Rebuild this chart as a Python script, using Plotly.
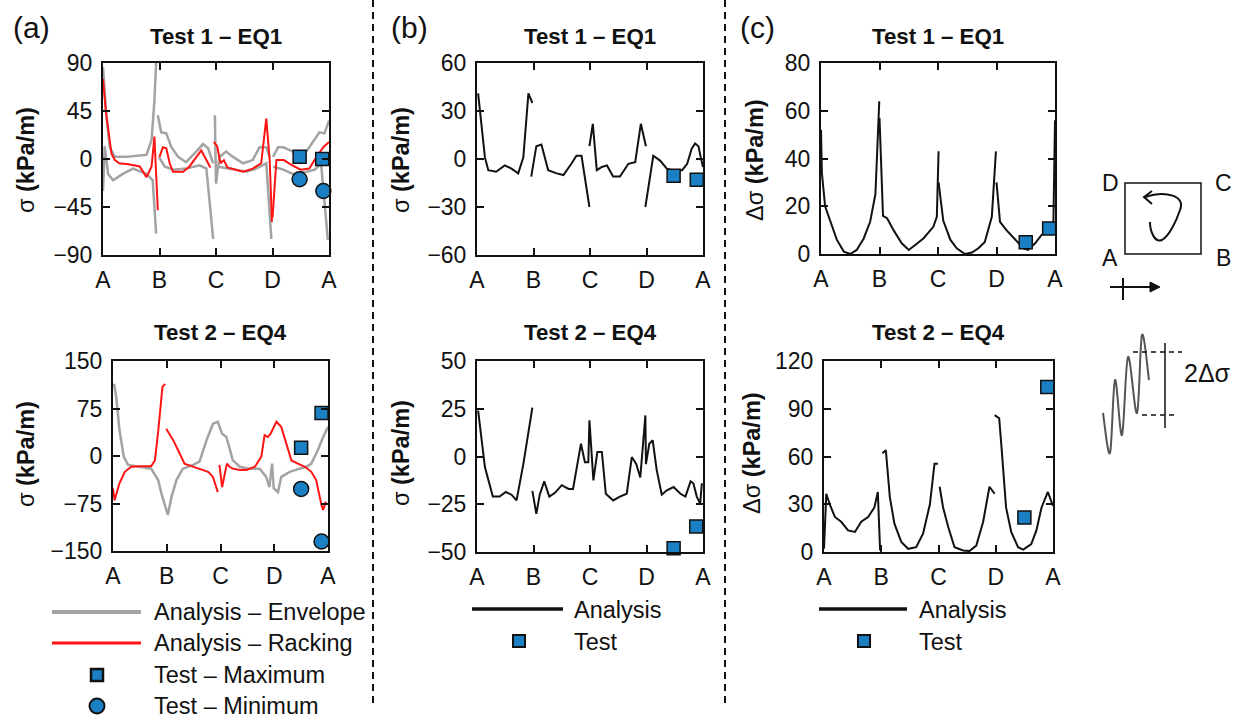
import plotly.graph_objects as go

W, H = 1240, 722
FONT = "Liberation Sans, Arial, Helvetica, sans-serif"

# ---------------- tick labels / categories ----------------
XTICK_VALS = [0, 1, 2, 3, 4]
XTICK_TEXT = ["A", "B", "C", "D", "A"]

# ---------------- (a) Test 1 - EQ1 ----------------
A1_ENV_X = [0.0, 0.06, 0.12, 0.21, 0.41, 0.77, 0.86, 0.91, 0.94, None,
            0.0, 0.03, 0.09, 0.18, 0.35, 0.53, 0.77, 0.88, 0.94, None,
            0.97, 1.03, 1.12, 1.21, 1.33, 1.47, 1.65, 1.77, 1.86, 1.95, None,
            0.99, 1.09, 1.24, 1.47, 1.71, 1.83, 1.95, None,
            1.98, 2.0, 2.06, 2.18, 2.3, 2.48, 2.65, 2.77, 2.89, 2.95, None,
            2.02, 2.3, 2.54, 2.71, 2.89, 2.98, None,
            3.01, 3.1, 3.19, 3.36, 3.6, 3.75, 3.83, 3.92, 4.0, None,
            3.01, 3.19, 3.36, 3.6, 3.75, 3.86, 3.98]
A1_ENV_Y = [86, 40, 11, 2, 2, 4, 18, 55, 90, None,
            -30, 12, -14, -20, -14, -9, -14, -20, -70, None,
            41, 25, 24, 11, 2, -3, 7, 14, 10, -4, None,
            2, -7, -10, -9, -6, -9, -75, None,
            41, -23, 2, 7, 2, -4, -1, 11, 11, 2, None,
            -7, -10, -12, -9, -4, -75, None,
            2, 11, 11, 7, 7, 18, 25, 24, 36, None,
            -7, -10, -14, -12, -10, -4, -76]
A1_RACK_X = [0.0, 0.05, 0.15, 0.21, 0.29, 0.45, 0.65, 0.77, 0.86, 0.91, 0.97, None,
             1.0, 1.06, 1.12, 1.18, 1.24, 1.42, 1.53, 1.74, 1.83, 1.9, None,
             1.96, 2.02, 2.08, 2.14, 2.2, 2.48, 2.65, 2.8, 2.89, 2.95, 2.99, None,
             3.0, 3.07, 3.2, 3.35, 3.5, 3.65, 3.78, 3.9, 4.0]
A1_RACK_Y = [75, 45, 5, -1, -4, -5, -7, -17, -7, 21, -48, None,
             2, 11, 10, -4, -12, -12, -7, 8, -1, -8, None,
             16, 12, -4, -1, -8, -12, -9, -4, 38, -1, -59, None,
             -55, -1, -1, -6, -10, -9, 2, 11, 16]
A1_MAX_X = [3.48, 3.88]
A1_MAX_Y = [2, 0]
A1_MIN_X = [3.48, 3.9]
A1_MIN_Y = [-19, -30]

# ---------------- (a) Test 2 - EQ4 ----------------
A2_ENV_X = [0.02, 0.06, 0.12, 0.2, 0.28, 0.5, 0.71, 0.84, 0.9, 1.02, 1.09, 1.18, 1.3,
            1.49, 1.61, 1.74, 1.86, 1.95, 2.03, 2.11, 2.23, 2.36, 2.51, 2.73, 2.85,
            2.91, 2.96, 2.99, 3.07, 3.13, 3.29, 3.47, 3.6, 3.69, 3.81, 3.91, 4.0]
A2_ENV_Y = [114, 93, 41, -1, -14, -17, -20, -38, -59, -93, -64, -38, -20,
            -14, -9, 25, 51, 54, 35, 30, -7, -17, -20, -20, -33,
            -49, -12, -51, -57, -33, -25, -20, -17, -12, 9, 30, 46]
A2_RACK_X = [0.0, 0.03, 0.12, 0.22, 0.34, 0.5, 0.71, 0.78, 0.84, 0.89, 0.92, 0.97, None,
             0.99, 1.12, 1.24, 1.33, 1.46, 1.61, 1.77, 1.86, 1.95, None,
             1.98, 2.03, 2.08, 2.12, 2.17, 2.23, 2.36, 2.48, 2.64, 2.76, 2.82, 2.88,
             2.93, 3.04, 3.13, 3.22, 3.32, 3.44, 3.57, 3.69, 3.78, 3.88, 3.91, 3.96]
A2_RACK_Y = [-51, -70, -43, -25, -17, -16, -16, -7, 38, 83, 109, 114, None,
             43, 25, 4, -12, -16, -20, -25, -33, -57, None,
             -14, -49, -28, -12, -17, -20, -22, -22, -17, -1, 33, 30,
             35, 54, 46, 20, -7, -12, -17, -25, -38, -78, -85, -72]
A2_MAX_X = [3.5, 3.88]
A2_MAX_Y = [13, 68]
A2_MIN_X = [3.5, 3.88]
A2_MIN_Y = [-52, -135]

# ---------------- (b) Test 1 - EQ1 ----------------
B1_X = [0.02, 0.05, 0.14, 0.2, 0.34, 0.49, 0.61, 0.73, 0.82, 0.91, 0.98, None,
        0.96, 1.05, 1.14, 1.26, 1.41, 1.53, 1.67, 1.76, 1.85, 1.99, None,
        1.99, 2.05, 2.12, 2.21, 2.3, 2.41, 2.53, 2.68, 2.8, 2.9, 2.99, None,
        2.98, 3.07, 3.12, 3.24, 3.36, 3.45, 3.63, 3.72, 3.8, 3.86, 3.92, 3.96, 4.0]
B1_Y = [41, 30, 1, -7, -8, -4, -6, -9, 1, 41, 35, None,
        -11, 8, 9, -7, -9, -10, -3, 2, 2, -30, None,
        8, 22, -7, -5, -4, -11, -11, -3, -2, 22, 8, None,
        -30, -9, 2, -1, -6, -7, -7, -3, 6.5, 9.7, 8, 1, -5]
B1_TEST_X = [3.48, 3.89]
B1_TEST_Y = [-10.5, -13]

# ---------------- (b) Test 2 - EQ4 ----------------
B2_X = [0.02, 0.14, 0.28, 0.4, 0.51, 0.61, 0.7, 0.82, 0.98, None,
        0.98, 1.05, 1.11, 1.19, 1.28, 1.38, 1.5, 1.62, 1.7, 1.84, 1.91, 1.97, 1.99,
        2.06, 2.13, 2.21, 2.28, 2.41, 2.53, 2.65, 2.74, 2.82, 2.89, 2.98,
        2.99, 3.05, 3.11, 3.18, 3.27, 3.36, 3.48, 3.6, 3.69, 3.78, 3.83, 3.89, 3.95, 3.98]
B2_Y = [24, -5.5, -21, -21, -18.6, -20, -23, -4, 25.6, None,
        -18, -30, -20, -13, -21, -19, -15, -17, -17, 6.7, -3, -3, 19,
        -12.5, 2.4, 2.4, -19.5, -23, -21, -19.5, -0.3, -4, -11, 21.5,
        -4, 6.7, 8.5, -7, -20, -17.7, -16, -19.5, -21, -13, -14, -21, -24.7, -14]
B2_TEST_X = [3.48, 3.88]
B2_TEST_Y = [-48, -36.6]

# ---------------- (c) Test 1 - EQ1 ----------------
C1_X = [0.0, 0.015, 0.07, 0.16, 0.27, 0.39, 0.5, 0.61, 0.73, 0.84, 0.93, 0.996, None,
        1.0, 1.06, 1.13, 1.24, 1.38, 1.5, 1.61, 1.75, 1.92, 1.98, 2.01, None,
        2.01, 2.09, 2.21, 2.32, 2.46, 2.58, 2.69, 2.8, 2.92, 2.99, None,
        3.0, 3.06, 3.17, 3.32, 3.46, 3.54, 3.66, 3.77, 3.91, 3.97, 4.0]
C1_Y = [52, 34, 20, 14, 6, 1, 0, 1.7, 6.5, 13.5, 25, 64, None,
        57, 16, 15, 10, 4.5, 1.7, 3.8, 6.5, 11.4, 15.6, 43, None,
        30, 14, 6, 2.4, 0, 0.6, 2.4, 5, 15.6, 43, None,
        30, 13.5, 10, 6, 2.4, 1.7, 4.5, 8, 10, 9, 56]
C1_TEST_X = [3.5, 3.9]
C1_TEST_Y = [4.9, 10.7]

# ---------------- (c) Test 2 - EQ4 ----------------
C2_X = [0.0, 0.04, 0.1, 0.19, 0.3, 0.42, 0.54, 0.65, 0.77, 0.88, 0.94, 0.98, None,
        1.02, 1.08, 1.15, 1.23, 1.35, 1.47, 1.61, 1.73, 1.85, 1.93, 1.99, None,
        2.02, 2.08, 2.17, 2.28, 2.43, 2.54, 2.66, 2.78, 2.89, 2.98, None,
        2.98, 3.06, 3.1, 3.18, 3.27, 3.39, 3.48, 3.62, 3.71, 3.8, 3.91, 4.0]
C2_Y = [2, 36.6, 30, 22, 19, 13.6, 12.6, 19, 22, 28, 37.7, 1, None,
        62, 64, 34.5, 17.8, 6.3, 2, 3, 11.5, 30, 55.5, 55.5, None,
        41, 28, 15.7, 3, 1, 0.6, 4, 19, 41, 36.6, None,
        86, 84, 66, 28, 12.6, 3, 1.5, 5, 13.6, 28, 37.7, 29]
C2_TEST_X = [3.5, 3.9]
C2_TEST_Y = [21.6, 103.6]

# ---------------- styles ----------------
GREY = "#a3a3a3"
RED = "#ff1414"
BLACK = "#111111"
BLUE = "#1b7fc4"


def X(p):
    return p / W


def Y(p):
    return 1 - p / H


fig = go.Figure()

# panel: (axis id, left, right, top, bottom, y range, y ticks)
PANELS = {
    1: (103, 329, 63, 255, [-90, 90], [-90, -45, 0, 45, 90]),
    2: (477, 703, 63, 255, [-60, 60], [-60, -30, 0, 30, 60]),
    3: (821, 1055, 63, 254, [0, 80], [0, 20, 40, 60, 80]),
    4: (113, 328, 361, 551, [-150, 150], [-150, -75, 0, 75, 150]),
    5: (477, 703, 361, 552, [-50, 50], [-50, -25, 0, 25, 50]),
    6: (824, 1053, 361, 552, [0, 120], [0, 30, 60, 90, 120]),
}

TICK_SIZE = 23
layout_axes = {}
for i, (l, r, t, b, yr, yt) in PANELS.items():
    sx = "" if i == 1 else str(i)
    layout_axes["xaxis" + sx] = dict(
        domain=[X(l), X(r)], range=[0, 4], anchor="y" + sx,
        tickvals=XTICK_VALS, ticktext=XTICK_TEXT,
        ticks="inside", ticklen=7, tickwidth=2, tickcolor=BLACK,
        showline=True, linecolor=BLACK, linewidth=2, mirror="ticks",
        showgrid=False, zeroline=False, fixedrange=True, automargin=False,
        tickfont=dict(family=FONT, size=TICK_SIZE, color=BLACK), ticklabelstandoff=3,
    )
    layout_axes["yaxis" + sx] = dict(
        domain=[Y(b), Y(t)], range=yr, anchor="x" + sx,
        tickvals=yt,
        ticks="inside", ticklen=7, tickwidth=2, tickcolor=BLACK,
        showline=True, linecolor=BLACK, linewidth=2, mirror="ticks",
        showgrid=False, zeroline=False, fixedrange=True, automargin=False,
        tickfont=dict(family=FONT, size=TICK_SIZE, color=BLACK), ticklabelstandoff=4,
    )


def ax(i):
    return ("x" if i == 1 else "x%d" % i), ("y" if i == 1 else "y%d" % i)


def line(i, xs, ys, color, width):
    xa, ya = ax(i)
    fig.add_trace(go.Scatter(x=xs, y=ys, mode="lines", xaxis=xa, yaxis=ya,
                             line=dict(color=color, width=width), connectgaps=False,
                             showlegend=False, hoverinfo="skip", cliponaxis=True))


def marks(i, xs, ys, symbol, size):
    xa, ya = ax(i)
    fig.add_trace(go.Scatter(x=xs, y=ys, mode="markers", xaxis=xa, yaxis=ya,
                             marker=dict(symbol=symbol, size=size, color=BLUE,
                                         line=dict(color=BLACK, width=1.5)),
                             showlegend=False, hoverinfo="skip", cliponaxis=False))


line(1, A1_ENV_X, A1_ENV_Y, GREY, 2.5)
line(1, A1_RACK_X, A1_RACK_Y, RED, 2)
marks(1, A1_MAX_X, A1_MAX_Y, "square", 13)
marks(1, A1_MIN_X, A1_MIN_Y, "circle", 15)

line(4, A2_ENV_X, A2_ENV_Y, GREY, 2.5)
line(4, A2_RACK_X, A2_RACK_Y, RED, 2)
marks(4, A2_MAX_X, A2_MAX_Y, "square", 13)
marks(4, A2_MIN_X, A2_MIN_Y, "circle", 15)

line(2, B1_X, B1_Y, BLACK, 2)
marks(2, B1_TEST_X, B1_TEST_Y, "square", 13)
line(5, B2_X, B2_Y, BLACK, 2)
marks(5, B2_TEST_X, B2_TEST_Y, "square", 13)

line(3, C1_X, C1_Y, BLACK, 2)
marks(3, C1_TEST_X, C1_TEST_Y, "square", 13)
line(6, C2_X, C2_Y, BLACK, 2)
marks(6, C2_TEST_X, C2_TEST_Y, "square", 13)

# ---------------- annotations ----------------
ann = []


def text(x, y, s, size=22, bold=False, anchor="center", angle=0):
    ann.append(dict(x=X(x), y=Y(y), xref="paper", yref="paper", showarrow=False,
                    text=("<b>%s</b>" % s) if bold else s, textangle=angle,
                    xanchor=anchor, yanchor="middle",
                    font=dict(family=FONT, size=size, color=BLACK)))


TITLES = [(216, 37, "Test 1 – EQ1"), (590, 37, "Test 1 – EQ1"), (938, 37, "Test 1 – EQ1"),
          (220, 333, "Test 2 – EQ4"), (590, 333, "Test 2 – EQ4"), (938, 333, "Test 2 – EQ4")]
for tx, ty, s in TITLES:
    text(tx, ty, s, size=22.3, bold=True)

text(31, 28, "(a)", size=30)
text(409, 28, "(b)", size=30)
text(757, 28, "(c)", size=30)

YL_S = "σ <b>(kPa/m)</b>"
YL_D = "Δσ <b>(kPa/m)</b>"
YL_SIZE = 23.5
text(26, 160, YL_S, size=YL_SIZE, angle=-90)
text(26, 454, YL_S, size=YL_SIZE, angle=-90)
text(401, 160, YL_S, size=YL_SIZE, angle=-90)
text(401, 453, YL_S, size=YL_SIZE, angle=-90)
text(755, 160, YL_D, size=YL_SIZE, angle=-90)
text(752, 453, YL_D, size=YL_SIZE, angle=-90)

# legend texts
LEG_A = ["Analysis – Envelope", "Analysis – Racking", "Test – Maximum", "Test – Minimum"]
for s, yy in zip(LEG_A, [612, 643, 675, 706]):
    text(152, yy, s, size=23.5, anchor="left")
for lx in (572, 917):
    text(lx, 610, "Analysis", size=23.5, anchor="left")
    text(lx, 642, "Test", size=23.5, anchor="left")

# diagram labels
text(1110, 183, "D", size=23)
text(1223, 183, "C", size=23)
text(1110, 258, "A", size=23)
text(1223, 258, "B", size=23)
text(1207, 373, "2Δσ", size=25)

# ---------------- shapes ----------------
shapes = []


def seg(x0, y0, x1, y1, color=BLACK, width=2, dash="solid"):
    shapes.append(dict(type="line", xref="paper", yref="paper",
                       x0=X(x0), y0=Y(y0), x1=X(x1), y1=Y(y1),
                       line=dict(color=color, width=width, dash=dash)))


def pathstr(cmds):
    out = []
    for c in cmds:
        if isinstance(c, str):
            out.append(c)
        else:
            out.append("%f,%f" % (X(c[0]), Y(c[1])))
    return " ".join(out)


def path(cmds, color=BLACK, width=2):
    shapes.append(dict(type="path", xref="paper", yref="paper", path=pathstr(cmds),
                       line=dict(color=color, width=width), fillcolor="rgba(0,0,0,0)"))


# dashed separators
seg(373, 0, 373, 705, width=2, dash="7px,5px")
seg(725, 0, 725, 705, width=2, dash="7px,5px")

# legend (a)
seg(52, 612, 141, 612, color=GREY, width=4)
seg(52, 643, 141, 643, color=RED, width=3)
shapes.append(dict(type="rect", xref="paper", yref="paper",
                   x0=X(91), x1=X(103), y0=Y(681), y1=Y(669),
                   fillcolor=BLUE, line=dict(color=BLACK, width=2.5)))
shapes.append(dict(type="circle", xref="paper", yref="paper",
                   x0=X(89.5), x1=X(104.5), y0=Y(713.5), y1=Y(698.5),
                   fillcolor=BLUE, line=dict(color=BLACK, width=2)))
# legends (b), (c)
for lx0, lx1, sqx in ((472, 563, 519), (819, 907, 864)):
    seg(lx0, 609, lx1, 609, color=BLACK, width=3.5)
    shapes.append(dict(type="rect", xref="paper", yref="paper",
                       x0=X(sqx - 6), x1=X(sqx + 6), y0=Y(647), y1=Y(635),
                       fillcolor=BLUE, line=dict(color=BLACK, width=2)))

# diagram: box
shapes.append(dict(type="rect", xref="paper", yref="paper",
                   x0=X(1125), x1=X(1201), y0=Y(254), y1=Y(183),
                   line=dict(color=BLACK, width=1.5)))
# curly arrow inside box
path(["M", (1145, 197), "C", (1166, 190), (1186, 196), (1180, 210),
      "C", (1176, 222), (1169, 236), (1162, 240),
      "C", (1155, 243), (1150, 232), (1150, 222)], width=2)
path(["M", (1152, 191), "L", (1144, 197), "L", (1152, 204)], width=2)
# horizontal arrow
seg(1110, 287, 1156, 287, width=2)
seg(1123, 278, 1123, 300, width=2)
path(["M", (1150, 282), "L", (1160, 287), "L", (1150, 292), "Z"], width=1)
shapes[-1]["fillcolor"] = BLACK

# wave sketch (illustration)
WAVE = [(1103, 413), (1110, 453), (1115, 380), (1122, 435), (1128, 357),
        (1137, 413), (1142, 335), (1149, 380)]
cmds = ["M", WAVE[0]]
for k in range(len(WAVE) - 1):
    p0 = WAVE[k - 1] if k > 0 else WAVE[k]
    p1 = WAVE[k]
    p2 = WAVE[k + 1]
    p3 = WAVE[k + 2] if k + 2 < len(WAVE) else WAVE[k + 1]
    c1 = (p1[0] + (p2[0] - p0[0]) / 6, p1[1] + (p2[1] - p0[1]) / 6)
    c2 = (p2[0] - (p3[0] - p1[0]) / 6, p2[1] - (p3[1] - p1[1]) / 6)
    cmds += ["C", c1, c2, p2]
path(cmds, color="#555555", width=2)
seg(1133, 352, 1182, 352, width=1.5, dash="5px,4px")
seg(1142, 415, 1176, 415, width=1.5, dash="5px,4px")
seg(1165, 343, 1165, 428, width=1.5)

fig.update_layout(
    width=W, height=H, autosize=False,
    margin=dict(l=0, r=0, t=0, b=0, pad=0, autoexpand=False),
    paper_bgcolor="white", plot_bgcolor="white",
    showlegend=False,
    annotations=ann, shapes=shapes,
    font=dict(family=FONT, color=BLACK),
    **layout_axes,
)

fig.write_html(
    "out.html",
    config={"displayModeBar": False},
    post_script="document.body.style.margin='0';document.body.style.overflow='hidden';",
)
